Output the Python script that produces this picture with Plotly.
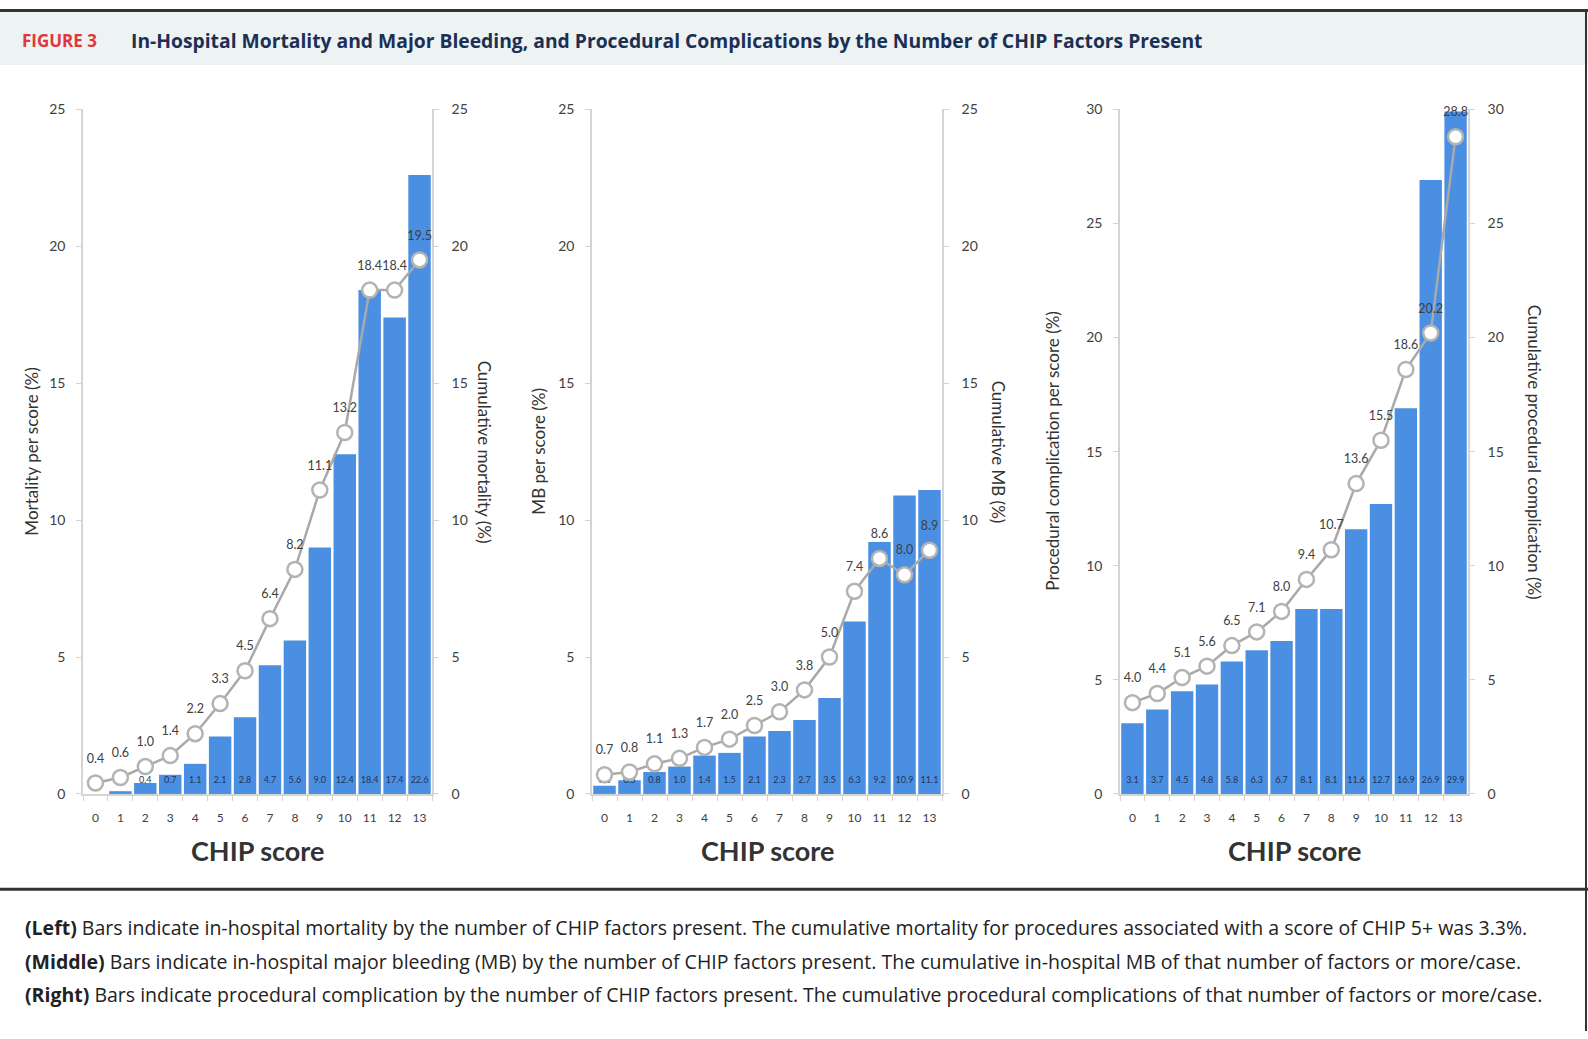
import plotly.graph_objects as go

# ---- data -------------------------------------------------------------
SCORES = [str(i) for i in range(14)]

MORTALITY_PER_SCORE = [0.0, 0.1, 0.4, 0.7, 1.1, 2.1, 2.8, 4.7, 5.6, 9.0, 12.4, 18.4, 17.4, 22.6]
MORTALITY_CUMULATIVE = [0.4, 0.6, 1.0, 1.4, 2.2, 3.3, 4.5, 6.4, 8.2, 11.1, 13.2, 18.4, 18.4, 19.5]

MB_PER_SCORE = [0.3, 0.5, 0.8, 1.0, 1.4, 1.5, 2.1, 2.3, 2.7, 3.5, 6.3, 9.2, 10.9, 11.1]
MB_CUMULATIVE = [0.7, 0.8, 1.1, 1.3, 1.7, 2.0, 2.5, 3.0, 3.8, 5.0, 7.4, 8.6, 8.0, 8.9]

COMPLICATION_PER_SCORE = [3.1, 3.7, 4.5, 4.8, 5.8, 6.3, 6.7, 8.1, 8.1, 11.6, 12.7, 16.9, 26.9, 29.9]
COMPLICATION_CUMULATIVE = [4.0, 4.4, 5.1, 5.6, 6.5, 7.1, 8.0, 9.4, 10.7, 13.6, 15.5, 18.6, 20.2, 28.8]

LEFT_TITLES = ["Mortality per score (%)", "MB per score (%)", "Procedural complication per score (%)"]
RIGHT_TITLES = ["Cumulative mortality (%)", "Cumulative MB (%)", "Cumulative procedural complication (%)"]
Y_MAX = [25, 25, 30]

HEADER_TAG = "FIGURE 3"
HEADER_TITLE = ("In-Hospital Mortality and Major Bleeding, and Procedural Complications "
                "by the Number of CHIP Factors Present")
CAPTION_LINES = [
    ("(Left)", " Bars indicate in-hospital mortality by the number of CHIP factors present. "
               "The cumulative mortality for procedures associated with a score of CHIP 5+ was 3.3%."),
    ("(Middle)", " Bars indicate in-hospital major bleeding (MB) by the number of CHIP factors present. "
                 "The cumulative in-hospital MB of that number of factors or more/case."),
    ("(Right)", " Bars indicate procedural complication by the number of CHIP factors present. "
                "The cumulative procedural complications of that number of factors or more/case."),
]

# ---- page geometry (pixels) ------------------------------------------
W, H = 1588, 1039
PLOT_TOP, PLOT_BOTTOM = 102, 798
PANEL_X = [(83, 432), (592, 942), (1120, 1468)]
LEFT_TITLE_X = [32, 539, 1053]
RIGHT_TITLE_X = [484, 998, 1534]
BAR_LABEL_LIFT = 13  # px above the baseline

FONT = "Lato, 'Open Sans', sans-serif"
WIDE_FONT = "'Open Sans', Lato, sans-serif"
BAR_BLUE = "#4A8FE2"
AXIS_GRAY = "#d4d4d4"
TEXT_GRAY = "#404040"


def px_x(x):
    return x / W


def px_y(y):
    return 1 - y / H


panels = [
    (MORTALITY_PER_SCORE, MORTALITY_CUMULATIVE),
    (MB_PER_SCORE, MB_CUMULATIVE),
    (COMPLICATION_PER_SCORE, COMPLICATION_CUMULATIVE),
]

fig = go.Figure()
layout = {}
annotations = []
plot_h = PLOT_BOTTOM - PLOT_TOP

for i, (per_score, cumulative) in enumerate(panels):
    n = i + 1
    xa = "x" if n == 1 else f"x{n}"
    ya = "y" if n == 1 else f"y{n}"
    ya_r = f"y{n + 3}"
    ymax = Y_MAX[i]

    # bars: rate per score
    fig.add_trace(go.Bar(
        x=SCORES, y=per_score, xaxis=xa, yaxis=ya,
        marker=dict(color=BAR_BLUE, line=dict(width=0)),
        showlegend=False, hoverinfo="skip",
    ))
    # value labels sitting just above each bar's base
    lift = BAR_LABEL_LIFT * ymax / plot_h
    fig.add_trace(go.Scatter(
        x=SCORES, y=[lift] * len(SCORES), xaxis=xa, yaxis=ya,
        mode="text", text=[f"{v:.1f}" for v in per_score],
        textfont=dict(size=9, color="#1f3559", family=FONT),
        showlegend=False, hoverinfo="skip",
    ))
    # cumulative line on the secondary axis
    fig.add_trace(go.Scatter(
        x=SCORES, y=cumulative, xaxis=xa, yaxis=ya_r,
        mode="lines+markers",
        line=dict(color="#a9a9a9", width=2.5),
        marker=dict(size=15, color="white", line=dict(color="#b3b3b3", width=2.5)),
        cliponaxis=False, showlegend=False, hoverinfo="skip",
    ))
    # cumulative value labels, pushed a little above the circles
    fig.add_trace(go.Scatter(
        x=SCORES, y=cumulative, xaxis=xa, yaxis=ya_r,
        mode="markers+text",
        marker=dict(size=26, color="rgba(0,0,0,0)"),
        text=[f"{v:.1f}" for v in cumulative], textposition="top center",
        textfont=dict(size=12.5, color=TEXT_GRAY, family=FONT),
        cliponaxis=False, showlegend=False, hoverinfo="skip",
    ))

    x0, x1 = PANEL_X[i]
    dom_x = [px_x(x0), px_x(x1)]
    dom_y = [px_y(PLOT_BOTTOM), px_y(PLOT_TOP)]
    xkey = "xaxis" if n == 1 else f"xaxis{n}"
    ykey = "yaxis" if n == 1 else f"yaxis{n}"
    layout[xkey] = dict(
        domain=dom_x, anchor=ya, type="category",
        range=[-0.5, len(SCORES) - 0.5], autorange=False,
        showline=True, linecolor=AXIS_GRAY, linewidth=1.5,
        ticks="outside", tickson="boundaries", ticklen=5, tickcolor=AXIS_GRAY,
        tickangle=0, ticklabelstandoff=12,
        tickfont=dict(size=12, color=TEXT_GRAY, family=FONT),
        showgrid=False, zeroline=False, fixedrange=True,
    )
    axis_common = dict(
        domain=dom_y, range=[0, ymax], autorange=False, dtick=5, tick0=0,
        showline=True, linecolor=AXIS_GRAY, linewidth=1.5,
        ticks="outside", ticklen=5, tickcolor=AXIS_GRAY,
        tickfont=dict(size=14, color=TEXT_GRAY, family=FONT),
        showgrid=False, zeroline=False, fixedrange=True,
    )
    layout[ykey] = dict(anchor=xa, side="left", ticklabelstandoff=8, **axis_common)
    layout[f"yaxis{n + 3}"] = dict(anchor=xa, side="right", overlaying=ya,
                                   ticklabelstandoff=10, **axis_common)

    mid_y = px_y((PLOT_TOP + PLOT_BOTTOM) / 2)
    annotations.append(dict(
        text=LEFT_TITLES[i], x=px_x(LEFT_TITLE_X[i]), y=mid_y, xref="paper", yref="paper",
        textangle=-90, showarrow=False, xanchor="center", yanchor="middle",
        font=dict(size=17, color="#333333", family=FONT),
    ))
    annotations.append(dict(
        text=RIGHT_TITLES[i], x=px_x(RIGHT_TITLE_X[i]), y=mid_y, xref="paper", yref="paper",
        textangle=90, showarrow=False, xanchor="center", yanchor="middle",
        font=dict(size=17, color="#333333", family=FONT),
    ))
    annotations.append(dict(
        text="<b>CHIP score</b>", x=px_x((x0 + x1) / 2), y=px_y(856), xref="paper", yref="paper",
        showarrow=False, xanchor="center", yanchor="middle",
        font=dict(size=27, color="#333333", family=FONT),
    ))

# header band
annotations.append(dict(
    text=f"<b>{HEADER_TAG}</b>", x=px_x(20), y=px_y(32), xref="paper", yref="paper",
    showarrow=False, xanchor="left", yanchor="middle",
    font=dict(size=17, color="#e0363c", family=WIDE_FONT),
))
annotations.append(dict(
    text=f"<b>{HEADER_TITLE}</b>", x=px_x(129), y=px_y(32), xref="paper", yref="paper",
    showarrow=False, xanchor="left", yanchor="middle",
    font=dict(size=19.3, color="#1c2f55", family=WIDE_FONT),
))

# caption lines
for k, (lead, body) in enumerate(CAPTION_LINES):
    annotations.append(dict(
        text=f"<b>{lead}</b>{body}", x=px_x(23), y=px_y(934 + 34 * k), xref="paper", yref="paper",
        showarrow=False, xanchor="left", yanchor="middle",
        font=dict(size=19.5, color="#222222", family=WIDE_FONT),
    ))

shapes = [
    dict(type="rect", xref="paper", yref="paper", x0=0, x1=1, y0=px_y(57), y1=px_y(3),
         fillcolor="#edf2f2", line=dict(width=0), layer="below"),
    dict(type="rect", xref="paper", yref="paper", x0=0, x1=1, y0=px_y(3), y1=1,
         fillcolor="#333333", line=dict(width=0)),
    dict(type="line", xref="paper", yref="paper", x0=0, x1=1, y0=px_y(895), y1=px_y(895),
         line=dict(color="#333333", width=3)),
    dict(type="line", xref="paper", yref="paper", x0=px_x(1586), x1=px_x(1586), y0=0, y1=1,
         line=dict(color="#333333", width=2)),
]

fig.update_layout(
    width=W, height=H, margin=dict(l=0, r=0, t=0, b=0),
    paper_bgcolor="white", plot_bgcolor="rgba(0,0,0,0)",
    bargap=0.1, showlegend=False,
    font=dict(family=FONT, color=TEXT_GRAY),
    annotations=annotations, shapes=shapes,
    **layout,
)

fig.write_html("out.html")
